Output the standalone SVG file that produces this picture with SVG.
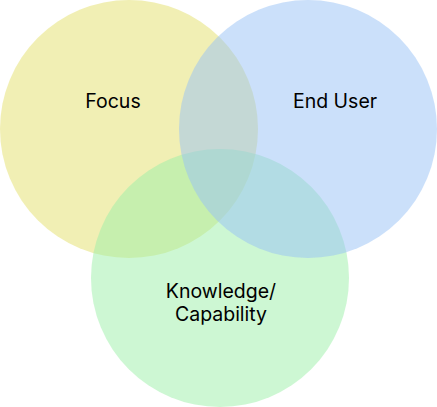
<svg xmlns="http://www.w3.org/2000/svg" width="437" height="407" viewBox="0 0 437 407">
<style>
.c{fill-opacity:0.5;stroke:none}
.t{font-family:Inter,"Liberation Sans",sans-serif;font-size:19.5px;fill:#000;text-anchor:middle}
</style>
<rect width="437" height="407" fill="#fff"/>
<g id="focus">
<circle class="c" cx="129" cy="129" r="129" fill="rgb(227,223,105)"/>
</g>
<g id="knowledge">
<circle class="c" cx="220" cy="278" r="129" fill="rgb(155,239,167)"/>
</g>
<g id="enduser">
<circle class="c" cx="308" cy="129" r="129" fill="rgb(151,193,245)"/>
</g>
<g id="labels">
<text class="t" x="113" y="108">Focus</text>
<text class="t" x="335" y="108">End User</text>
<text class="t" x="221" y="298">Knowledge/</text>
<text class="t" x="221" y="321">Capability</text>
</g>
<g id="connectors"/>
</svg>
